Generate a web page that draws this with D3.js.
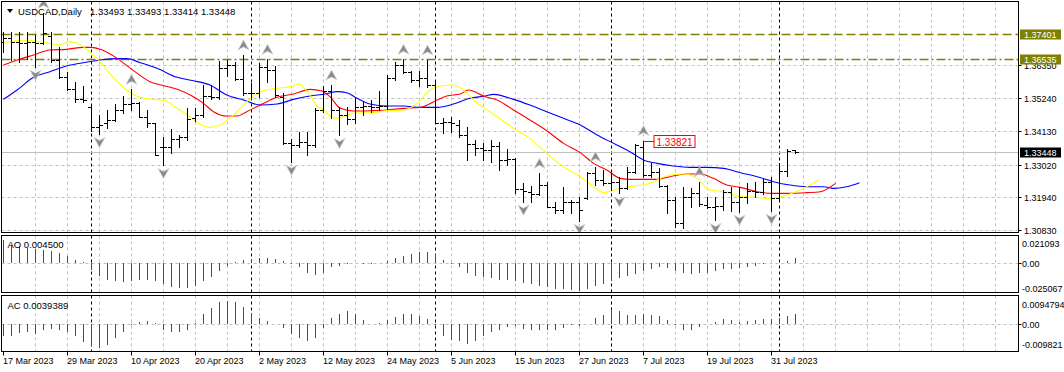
<!DOCTYPE html>
<html><head><meta charset="utf-8">
<script src="https://cdn.jsdelivr.net/npm/d3@7"></script>
<style>
body{margin:0;background:#fff}
svg{display:block}
text{font-family:"Liberation Sans",Arial,sans-serif;font-size:9px;fill:#000}
</style>
</head><body>
<svg id="c" width="1064" height="372"></svg>
<script>
// ---------------- DATA ----------------
const symbolTitle = "USDCAD,Daily";
const titleValues = "1.33493 1.33493 1.33414 1.33448";
const dateLabels = ["17 Mar 2023","29 Mar 2023","10 Apr 2023","20 Apr 2023","2 May 2023","12 May 2023","24 May 2023","5 Jun 2023","15 Jun 2023","27 Jun 2023","7 Jul 2023","19 Jul 2023","31 Jul 2023"];
const priceTicks = [1.36350,1.35240,1.34130,1.33020,1.31940,1.30830];
const priceTickLabels = ["1.36350","1.35240","1.34130","1.33020","1.31940","1.30830"];
const levelLines = [1.37401,1.36535];
const levelLabels = ["1.37401","1.36535"];
const bidPrice = 1.33448;
const bidLabel = "1.33448";
const markedHigh = 1.33821;
const markedHighBar = 80;
const monthStartBars = [11,31,54,76,97];

const opens = [1.37131,1.37242,1.37131,1.37075,1.37131,1.37075,1.37320,1.36518,1.35960,1.35536,
1.35201,1.34956,1.34287,1.34421,1.34510,1.34845,1.35045,1.35067,1.34621,1.34398,
1.33618,1.33618,1.33863,1.33952,1.34566,1.34677,1.35313,1.35291,1.36239,1.36350,
1.35871,1.35402,1.35402,1.36295,1.36183,1.35291,1.33729,1.33673,1.33785,1.33673,
1.34845,1.35491,1.34845,1.34677,1.34532,1.34956,1.34978,1.34956,1.34978,1.35904,
1.36350,1.36127,1.35848,1.35904,1.35681,1.34398,1.34454,1.34343,1.34008,1.33707,
1.33562,1.33506,1.33640,1.33171,1.33194,1.32190,1.32112,1.32034,1.32335,1.31610,
1.31499,1.31777,1.31777,1.31889,1.32725,1.32502,1.32413,1.32447,1.32224,1.32781,
1.33618,1.32670,1.32781,1.32302,1.31833,1.31075,1.31945,1.32079,1.31666,1.31610,
1.31632,1.32112,1.31777,1.31945,1.32146,1.32112,1.32447,1.31889,1.32815,1.33493];
const highs = [1.37443,1.37443,1.37443,1.37443,1.37354,1.38079,1.37443,1.36964,1.36127,1.35793,
1.35648,1.34978,1.34677,1.34845,1.35034,1.35313,1.35536,1.35123,1.34845,1.34421,
1.33952,1.34198,1.34008,1.34900,1.34900,1.35681,1.35681,1.36484,1.36518,1.36462,
1.36685,1.35737,1.36406,1.36540,1.36317,1.35402,1.33863,1.34119,1.34119,1.34900,
1.35648,1.35681,1.34956,1.34956,1.35235,1.35123,1.35179,1.35491,1.36016,1.36462,
1.36540,1.36149,1.36161,1.36518,1.35848,1.34566,1.34621,1.34510,1.34287,1.33841,
1.33752,1.33841,1.33785,1.33529,1.33227,1.32391,1.32302,1.32725,1.32447,1.31777,
1.32279,1.31833,1.31922,1.32781,1.32949,1.32837,1.32725,1.32614,1.32949,1.33707,
1.33821,1.33060,1.32893,1.32335,1.31922,1.32257,1.32224,1.32447,1.31945,1.31922,
1.32168,1.32257,1.32279,1.32391,1.32447,1.32525,1.32614,1.33060,1.33529,1.33493];
const lows = [1.36774,1.36518,1.36462,1.36540,1.36295,1.37040,1.36462,1.35904,1.35514,1.35123,
1.35123,1.34153,1.34041,1.34231,1.34488,1.34733,1.34845,1.34599,1.34287,1.33339,
1.33004,1.33417,1.33595,1.33841,1.34488,1.34621,1.35201,1.35201,1.35982,1.35848,
1.35346,1.35268,1.35268,1.35793,1.35291,1.33707,1.33116,1.33618,1.33339,1.33618,
1.34789,1.34566,1.34008,1.34376,1.34398,1.34677,1.34789,1.34845,1.34867,1.35848,
1.36094,1.35793,1.35648,1.35625,1.34398,1.34063,1.34119,1.33930,1.33171,1.33339,
1.33171,1.33116,1.32837,1.33004,1.32079,1.31777,1.31777,1.32001,1.31588,1.31387,
1.31387,1.31387,1.31142,1.31855,1.32335,1.32335,1.32168,1.32056,1.32190,1.32725,
1.32614,1.32614,1.32279,1.31409,1.30940,1.30907,1.31610,1.31632,1.31554,1.31164,
1.31499,1.31476,1.31443,1.31744,1.31945,1.32034,1.31476,1.31855,1.32636,1.33414];
const closes = [1.37242,1.37131,1.37075,1.37131,1.37075,1.37410,1.36518,1.35960,1.35536,1.35201,
1.35179,1.34287,1.34343,1.34510,1.34845,1.35045,1.35067,1.34621,1.34398,1.33339,
1.33618,1.33863,1.33952,1.34532,1.34677,1.35313,1.35291,1.36239,1.36350,1.35871,
1.35402,1.35402,1.36295,1.36183,1.35346,1.33729,1.33673,1.33785,1.33673,1.34845,
1.35491,1.34845,1.34677,1.34532,1.34956,1.34978,1.34956,1.34978,1.35904,1.36350,
1.36127,1.35848,1.35904,1.35681,1.34398,1.34454,1.34398,1.34008,1.33707,1.33562,
1.33506,1.33640,1.33171,1.33194,1.32190,1.32146,1.32034,1.32335,1.31610,1.31499,
1.31777,1.31777,1.31499,1.32725,1.32502,1.32413,1.32447,1.32224,1.32781,1.33673,
1.32670,1.32781,1.32302,1.31833,1.31075,1.31945,1.32079,1.31699,1.31610,1.31632,
1.32112,1.31777,1.31945,1.32146,1.32112,1.32447,1.31889,1.32815,1.33480,1.33448];

const fractalUpBars = [5,16,30,33,41,50,53,67,74,80,87];
const fractalDownBars = [4,12,20,36,42,65,72,77,85,89,92,96];

// Alligator lines: [bar index (shifted), price]
const jaw = [[0,1.35201],[1.7,1.35514],[3.75,1.35938],[5.8,1.36127],[7.9,1.36317],[10,1.36428],[12.1,1.36518],[14.2,1.36562],[15.4,1.36562],[17.1,1.36428],[19.2,1.36239],[21.7,1.35938],[23.75,1.35826],[25.8,1.35681],[27.9,1.35346],[30,1.35179],[32.1,1.35012],[34.2,1.35045],[36.25,1.35201],[38.3,1.35313],[40.2,1.35380],[41.7,1.35458],[42.9,1.35424],[44.2,1.35235],[45.8,1.35045],[47.9,1.34978],[50,1.34978],[52.1,1.34934],[54.2,1.34934],[56.25,1.35045],[58.3,1.35235],[60.2,1.35313],[61.25,1.35369],[63.75,1.35201],[65.8,1.35012],[67.9,1.34789],[70,1.34566],[72.1,1.34343],[74.2,1.34008],[76.25,1.33729],[78.3,1.33450],[80.2,1.33149],[81.7,1.33060],[83.75,1.32971],[85.8,1.32926],[87.9,1.32926],[90,1.32893],[92.1,1.32748],[94.2,1.32614],[96.25,1.32447],[98.3,1.32335],[100.4,1.32279],[102.5,1.32279],[103.75,1.32224],[105.4,1.32279],[107,1.32413]];
const teeth = [[0,1.36350],[1.7,1.36518],[3.75,1.36685],[5.8,1.36852],[7.9,1.36874],[10,1.36941],[11,1.36941],[12.1,1.36874],[14.2,1.36573],[16.25,1.36161],[18.3,1.35793],[20.2,1.35648],[21.7,1.35536],[23.75,1.35291],[25,1.35067],[26.25,1.34789],[27.9,1.34644],[29.2,1.34644],[30.4,1.34789],[32.1,1.35012],[34.2,1.35268],[36.25,1.35380],[38.3,1.35536],[39.8,1.35480],[40.8,1.35291],[42.1,1.34900],[43.75,1.34811],[45.8,1.34822],[47.9,1.34845],[50,1.34900],[52.1,1.34934],[54.2,1.35179],[55.4,1.35313],[57.1,1.35380],[58.1,1.35514],[60.2,1.35291],[61.7,1.35179],[63.75,1.34845],[65.8,1.34510],[67.9,1.34153],[70,1.33729],[72.1,1.33417],[73.75,1.33060],[75.4,1.32837],[77.1,1.32558],[78.3,1.32525],[80.2,1.32525],[81.7,1.32525],[83.3,1.32614],[85.4,1.32703],[87.1,1.32703],[88.75,1.32558],[90.4,1.32335],[92.1,1.32257],[94.2,1.32112],[96.25,1.32056],[98.3,1.32056],[100.4,1.32079],[102.1,1.32112],[104,1.32391]];
const lips = [[0,1.37097],[1.7,1.37164],[3.75,1.37164],[5.8,1.37075],[7.1,1.37019],[8.1,1.37131],[9.2,1.37075],[10.4,1.36874],[11.7,1.36573],[12.9,1.36183],[14.2,1.35793],[15.4,1.35514],[17.1,1.35268],[18.75,1.35201],[20.2,1.35157],[21.7,1.34900],[23.3,1.34621],[25,1.34309],[25.8,1.34265],[27.1,1.34343],[28.75,1.34677],[30.4,1.35123],[32.1,1.35458],[34.2,1.35570],[36.25,1.35648],[36.9,1.35715],[38.3,1.35346],[39.2,1.34978],[40.2,1.34822],[40.8,1.34644],[41.7,1.34566],[42.9,1.34677],[44.2,1.34755],[45.8,1.34755],[47.9,1.34822],[50,1.34845],[51.7,1.35067],[53.3,1.35514],[54.6,1.35648],[56.05,1.35681],[57.5,1.35514],[58.75,1.35179],[60.2,1.34900],[61.7,1.34621],[63.75,1.34231],[65.8,1.33897],[67.9,1.33395],[70,1.32949],[72.1,1.32614],[73.75,1.32279],[75,1.32079],[76.25,1.32168],[77.9,1.32257],[79.2,1.32324],[80.2,1.32335],[81.25,1.32447],[83.3,1.32670],[85,1.32703],[86.7,1.32558],[88.3,1.32168],[90,1.32112],[92.1,1.31945],[94.2,1.31922],[95.4,1.31889],[97.1,1.31945],[98.75,1.32079],[100.4,1.32279],[101.9,1.32502]];

const aoValues = [0.021093,0.01659,0.01569,0.01358,0.01297,0.01207,0.01116,0.00965,0.00664,0.00302,
0.00091,-0.00603,-0.01116,-0.01509,-0.01599,-0.01720,-0.01599,-0.01509,-0.01480,-0.01569,
-0.01871,-0.02112,-0.02202,-0.02210,-0.02052,-0.01599,-0.01207,-0.00664,-0.00241,0.00091,
0.00302,0.00392,0.00513,0.00520,0.00392,0.00211,-0.00030,-0.00362,-0.00905,-0.01056,
-0.00905,-0.00362,-0.00241,-0.00030,-0.00010,-0.00040,-0.00020,0.00060,0.00241,0.00513,
0.00664,0.00845,0.01056,0.01060,0.00845,0.00302,-0.00030,-0.00302,-0.00845,-0.01116,
-0.01207,-0.01297,-0.01509,-0.01515,-0.01599,-0.01750,-0.01871,-0.02052,-0.02172,-0.02323,
-0.02310,-0.02414,-0.025067,-0.02323,-0.02052,-0.01871,-0.01569,-0.01297,-0.01116,-0.00965,
-0.00664,-0.00543,-0.00362,-0.00392,-0.00664,-0.00845,-0.00965,-0.00905,-0.00845,-0.00664,
-0.00543,-0.00513,-0.00453,-0.00362,-0.00241,-0.00091,-0.00015,0.00020,0.00211,0.004500];
const acValues = [-0.00483,-0.00490,-0.00373,-0.00345,-0.00400,-0.00262,-0.00207,-0.00235,-0.00345,-0.00511,
-0.00759,-0.00897,-0.009821,-0.00856,-0.00593,-0.00345,-0.00055,0.00097,0.00138,0.00030,
-0.00235,-0.00345,-0.00350,-0.00235,0.00030,0.00428,0.00662,0.00897,0.0094794,0.00911,
0.00704,0.00455,0.00248,0.00110,0.00014,-0.00179,-0.00400,-0.00580,-0.00718,-0.00580,
-0.00166,0.00248,0.00414,0.00552,0.00428,0.00179,0.00014,0.00040,0.00150,0.00290,
0.00428,0.00430,0.00345,0.00207,-0.00030,-0.00483,-0.00649,-0.00718,-0.00828,-0.00718,
-0.00511,-0.00345,-0.00235,-0.00124,-0.00100,-0.00193,-0.00262,-0.00235,-0.00262,-0.00270,
-0.00152,-0.00055,-0.00097,0.00014,0.00248,0.00386,0.00524,0.00530,0.00386,0.00380,
0.00428,0.00370,0.00345,0.00179,-0.00030,-0.00262,-0.00250,-0.00124,-0.00020,0.00097,
0.00207,0.00179,0.00083,0.00138,0.00179,0.00207,0.00200,0.00262,0.00345,0.0039389];
const aoMax = 0.021093, aoMin = -0.025067;
const acMax = 0.0094794, acMin = -0.009821;
const aoMaxLabel = "0.021093", aoMinLabel = "-0.025067";
const acMaxLabel = "0.0094794", acMinLabel = "-0.009821";
const aoTitle = "AO 0.004500", acTitle = "AC 0.0039389";

// ---------------- LAYOUT ----------------
const svg = d3.select("#c");
const N = opens.length;
const L = 1.5, R = 1018.5;
const mainTop = 1.5, mainBot = 232.5;
const aoTop = 235.5, aoBot = 292.5;
const acTop = 295.5, acBot = 351.5;
const GRID = "#c0c0c0", GREEN = "#008000", RED = "#ff0000", OLIVE = "#808000";

const x = d3.scaleLinear().domain([0, 1]).range([3.5, 11.5]);
const y = d3.scaleLinear().domain([1.30763, 1.38458]).range([232, 2]);
const yAO = d3.scaleLinear().domain([aoMin, aoMax]).range([291, 240]);
const yAC = d3.scaleLinear().domain([acMin, acMax]).range([347.6, 301]);

svg.append("rect").attr("width",1064).attr("height",372).attr("fill","#fff");
const defs = svg.append("defs");
defs.append("clipPath").attr("id","cm").append("rect").attr("x",L).attr("y",mainTop).attr("width",R-L).attr("height",mainBot-mainTop);
defs.append("clipPath").attr("id","ca").append("rect").attr("x",L).attr("y",aoTop).attr("width",R-L).attr("height",aoBot-aoTop);
defs.append("clipPath").attr("id","cc").append("rect").attr("x",L).attr("y",acTop).attr("width",R-L).attr("height",acBot-acTop);

const gm = svg.append("g").attr("clip-path","url(#cm)");
const ga = svg.append("g").attr("clip-path","url(#ca)");
const gc = svg.append("g").attr("clip-path","url(#cc)");

// vertical grid every 4 bars
const gridBars = d3.range(4, 125, 4);
[[gm,mainTop,mainBot],[ga,aoTop,aoBot],[gc,acTop,acBot]].forEach(([g,t,b])=>{
  g.selectAll(null).data(gridBars).enter().append("line")
    .attr("x1",d=>x(d)).attr("x2",d=>x(d)).attr("y1",t).attr("y2",b)
    .attr("stroke",GRID).attr("stroke-dasharray","3,3");
});
// horizontal grid main
gm.selectAll(null).data(priceTicks).enter().append("line")
  .attr("x1",L).attr("x2",R).attr("y1",d=>Math.round(y(d))+0.5).attr("y2",d=>Math.round(y(d))+0.5)
  .attr("stroke",GRID).attr("stroke-dasharray","3,3");
// zero lines
ga.append("line").attr("x1",L).attr("x2",R).attr("y1",Math.round(yAO(0))+0.5).attr("y2",Math.round(yAO(0))+0.5).attr("stroke",GRID).attr("stroke-dasharray","3,3");
gc.append("line").attr("x1",L).attr("x2",R).attr("y1",Math.round(yAC(0))+0.5).attr("y2",Math.round(yAC(0))+0.5).attr("stroke",GRID).attr("stroke-dasharray","3,3");

// month separators
[[gm,mainTop,mainBot],[ga,aoTop,aoBot],[gc,acTop,acBot]].forEach(([g,t,b])=>{
  g.selectAll(null).data(monthStartBars).enter().append("line")
    .attr("x1",d=>x(d)).attr("x2",d=>x(d)).attr("y1",t).attr("y2",b)
    .attr("stroke","#000").attr("stroke-dasharray","3,3");
});

// level lines
const dashes = ["9,4","9,3,2,3"];
levelLines.forEach((p,i)=>{
  gm.append("line").attr("x1",L).attr("x2",R).attr("y1",Math.round(y(p))+0.5).attr("y2",Math.round(y(p))+0.5)
    .attr("stroke",OLIVE).attr("stroke-width",1.4).attr("stroke-dasharray",dashes[i]);
});
// bid line
gm.append("line").attr("x1",L).attr("x2",R).attr("y1",Math.round(y(bidPrice))+0.5).attr("y2",Math.round(y(bidPrice))+0.5)
  .attr("stroke","#c0c0c0");

// alligator
const line = d3.line().x(d=>x(d[0])).y(d=>y(d[1])).curve(d3.curveMonotoneX);
[[jaw,"#0000ff"],[teeth,"#ff0000"],[lips,"#ffff00"]].forEach(([d,c])=>{
  gm.append("path").attr("d",line(d)).attr("fill","none").attr("stroke",c).attr("stroke-width",1.1);
});

// OHLC bars
const bars = d3.range(N);
const bg = gm.append("g").attr("stroke","#000").attr("stroke-width",1);
bg.selectAll(null).data(bars).enter().append("line")
  .attr("x1",i=>x(i)).attr("x2",i=>x(i))
  .attr("y1",i=>Math.round(y(highs[i]))).attr("y2",i=>Math.round(y(lows[i]))+1);
bg.selectAll(null).data(bars).enter().append("line")
  .attr("x1",i=>x(i)-3.5).attr("x2",i=>x(i))
  .attr("y1",i=>Math.round(y(opens[i]))+0.5).attr("y2",i=>Math.round(y(opens[i]))+0.5);
bg.selectAll(null).data(bars).enter().append("line")
  .attr("x1",i=>x(i)).attr("x2",i=>x(i)+3.5)
  .attr("y1",i=>Math.round(y(closes[i]))+0.5).attr("y2",i=>Math.round(y(closes[i]))+0.5);

// fractals
const upPath = "M0,-5 L5.5,5 L0,2 L-5.5,5 Z";
const dnPath = "M0,5 L5.5,-5 L0,-2 L-5.5,-5 Z";
gm.selectAll(null).data(fractalUpBars).enter().append("path")
  .attr("d",upPath).attr("transform",i=>`translate(${x(i)},${y(highs[i])-10})`)
  .attr("fill","#8a8a8a").attr("stroke","#d4d4d4").attr("stroke-width",0.8);
gm.selectAll(null).data(fractalDownBars).enter().append("path")
  .attr("d",dnPath).attr("transform",i=>`translate(${x(i)},${y(lows[i])+8.5})`)
  .attr("fill","#8a8a8a").attr("stroke","#d4d4d4").attr("stroke-width",0.8);

// marked high label
const mhY = Math.round(y(markedHigh))+0.5;
gm.append("line").attr("x1",x(markedHighBar)).attr("x2",x(markedHighBar)+11).attr("y1",mhY).attr("y2",mhY).attr("stroke",RED);
gm.append("rect").attr("x",x(markedHighBar)+10.5).attr("y",mhY-6).attr("width",41).attr("height",12)
  .attr("fill","#fff").attr("stroke",RED);
gm.append("text").attr("x",x(markedHighBar)+13).attr("y",mhY+4).text(markedHigh.toFixed(5))
  .style("font-size","10px").style("fill",RED);

// AO / AC bars
function colorOf(arr,i){ return i>0 && arr[i]>arr[i-1] ? GREEN : RED; }
ga.selectAll(null).data(bars).enter().append("line")
  .attr("x1",i=>x(i)).attr("x2",i=>x(i))
  .attr("y1",Math.round(yAO(0))).attr("y2",i=>Math.round(yAO(aoValues[i])))
  .attr("stroke",i=>colorOf(aoValues,i));
gc.selectAll(null).data(bars).enter().append("line")
  .attr("x1",i=>x(i)).attr("x2",i=>x(i))
  .attr("y1",Math.round(yAC(0))).attr("y2",i=>Math.round(yAC(acValues[i])))
  .attr("stroke",i=>colorOf(acValues,i));

// frames
[[mainTop,mainBot],[aoTop,aoBot],[acTop,acBot]].forEach(([t,b])=>{
  svg.append("rect").attr("x",L).attr("y",t).attr("width",R-L).attr("height",b-t)
    .attr("fill","none").attr("stroke","#000");
});

// right axis main
priceTicks.forEach((p,i)=>{
  const yy = Math.round(y(p))+0.5;
  svg.append("line").attr("x1",R).attr("x2",R+3).attr("y1",yy).attr("y2",yy).attr("stroke","#000");
  svg.append("text").attr("x",1024).attr("y",yy+3.5).text(priceTickLabels[i]);
});
function boxLabel(p,label,bg){
  const yy = Math.round(y(p))+0.5;
  svg.append("rect").attr("x",1020).attr("y",yy-5).attr("width",41).attr("height",10).attr("fill",bg);
  svg.append("text").attr("x",1024).attr("y",yy+3.5).text(label).style("fill","#fff");
}
levelLines.forEach((p,i)=>boxLabel(p,levelLabels[i],OLIVE));
boxLabel(bidPrice,bidLabel,"#000");

// right axis sub panels
function subAxis(sc,maxV,minV,maxL,minL){
  const z = Math.round(sc(0))+0.5;
  svg.append("line").attr("x1",R).attr("x2",R+3).attr("y1",z).attr("y2",z).attr("stroke","#000");
  svg.append("text").attr("x",1022).attr("y",z+3.5).text("0.00");
  svg.append("text").attr("x",1022).attr("y",sc(maxV)+6.5).text(maxL);
  svg.append("text").attr("x",1022).attr("y",sc(minV)+0.5).text(minL);
}
subAxis(yAO,aoMax,aoMin,aoMaxLabel,aoMinLabel);
subAxis(yAC,acMax,acMin,acMaxLabel,acMinLabel);

// titles
svg.append("path").attr("d","M7,9 L13,9 L10,13 Z").attr("fill","#000");
svg.append("text").attr("x",18).attr("y",14.5).text(symbolTitle).style("font-size","9.5px");
svg.append("text").attr("x",90).attr("y",14.5).text(titleValues).style("font-size","9.5px");
svg.append("text").attr("x",7.5).attr("y",247.5).text(aoTitle).style("font-size","9.5px");
svg.append("text").attr("x",7.5).attr("y",309).text(acTitle).style("font-size","9.5px");

// date axis
dateLabels.forEach((d,k)=>{
  const bx = x(k*8);
  svg.append("line").attr("x1",bx).attr("x2",bx).attr("y1",acBot).attr("y2",acBot+4).attr("stroke","#000");
  svg.append("text").attr("x",bx-0.5).attr("y",363.5).text(d);
});
</script>
</body></html>
